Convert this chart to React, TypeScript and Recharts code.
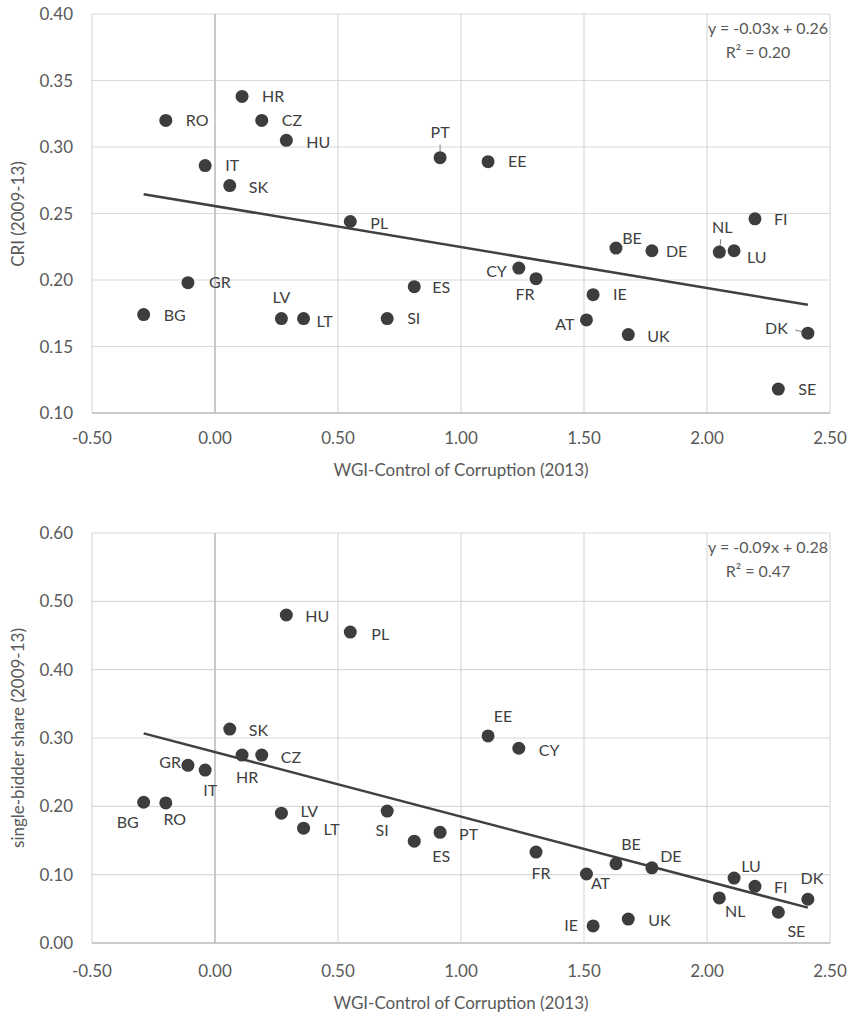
import React from "react";
import {
  ScatterChart,
  Scatter,
  XAxis,
  YAxis,
  CartesianGrid,
  ReferenceLine,
} from "recharts";

// country codes and values
const COUNTRIES = [
  "BG", "RO", "GR", "IT", "SK", "HR", "CZ", "LV", "HU", "LT", "PL", "SI", "ES", "PT",
  "EE", "CY", "FR", "AT", "IE", "BE", "UK", "DE", "NL", "LU", "FI", "SE", "DK",
];
const WGI_2013 = [
  -0.29, -0.2, -0.11, -0.04, 0.06, 0.11, 0.19, 0.27, 0.29, 0.36, 0.55, 0.7, 0.81, 0.915,
  1.11, 1.235, 1.305, 1.51, 1.537, 1.63, 1.68, 1.776, 2.05, 2.11, 2.195, 2.29, 2.41,
];
const CRI = [
  0.174, 0.32, 0.198, 0.286, 0.271, 0.338, 0.32, 0.171, 0.305, 0.171, 0.244, 0.171, 0.195, 0.292,
  0.289, 0.209, 0.201, 0.17, 0.189, 0.224, 0.159, 0.222, 0.221, 0.222, 0.246, 0.118, 0.16,
];
const SINGLE_BIDDER = [
  0.206, 0.205, 0.26, 0.253, 0.313, 0.275, 0.275, 0.19, 0.48, 0.168, 0.455, 0.193, 0.149, 0.162,
  0.303, 0.285, 0.133, 0.101, 0.025, 0.116, 0.035, 0.11, 0.066, 0.095, 0.083, 0.045, 0.064,
];

const X_TICKS = [-0.5, 0, 0.5, 1, 1.5, 2, 2.5];
const CRI_TICKS = [0.1, 0.15, 0.2, 0.25, 0.3, 0.35, 0.4];
const SB_TICKS = [0, 0.1, 0.2, 0.3, 0.4, 0.5, 0.6];

const X_TITLE = "WGI-Control of Corruption (2013)";
const CRI_TITLE = "CRI (2009-13)";
const SB_TITLE = "single-bidder share (2009-13)";
const CRI_EQ = ["y = -0.03x + 0.26", "R² = 0.20"];
const SB_EQ = ["y = -0.09x + 0.28", "R² = 0.47"];

type Anchor = "start" | "middle" | "end";
// where each label sits: [anchor, dx, dy of label centre], plus optional leader tick
const CRI_LABELS: Record<string, [Anchor, number, number, boolean?]> = {
  HR: ["start", 20, 0], RO: ["start", 20, 0], CZ: ["start", 20, 0], HU: ["start", 20, 2],
  IT: ["start", 20, 0], SK: ["start", 19, 2], PL: ["start", 20, 2], GR: ["start", 21, 0],
  BG: ["start", 20, 1], LV: ["middle", 0, -21], LT: ["start", 13, 3], SI: ["start", 20, 0],
  ES: ["start", 18, 1], PT: ["middle", 0, -25, true], EE: ["start", 20, 0], CY: ["end", -12, 3],
  FR: ["middle", -11, 16], IE: ["start", 20, 0], AT: ["end", -12, 5], UK: ["start", 19, 2],
  BE: ["middle", 16, -10], DE: ["start", 14, 1], NL: ["middle", 3, -25, true], LU: ["start", 13, 7],
  FI: ["start", 19, 1], DK: ["end", -20, -5, true], SE: ["start", 20, 0],
};
const SB_LABELS: Record<string, [Anchor, number, number, boolean?]> = {
  HU: ["start", 19, 1], PL: ["start", 21, 2], SK: ["start", 19, 1], HR: ["middle", 5, 22],
  CZ: ["start", 19, 2], GR: ["end", -7, -3], IT: ["middle", 5, 20], BG: ["middle", -16, 20],
  RO: ["middle", 9, 17], LV: ["start", 19, -2], LT: ["start", 20, 1], SI: ["middle", -5, 19],
  ES: ["middle", 27, 15], PT: ["start", 19, 2], EE: ["middle", 15, -19], CY: ["start", 20, 2],
  FR: ["middle", 5, 21], AT: ["middle", 14, 10], BE: ["middle", 15, -19], DE: ["middle", 19, -11],
  IE: ["end", -15, 0], UK: ["start", 20, 1], LU: ["middle", 17, -12], FI: ["start", 19, 1],
  NL: ["middle", 16, 14], SE: ["middle", 18, 19], DK: ["middle", 4, -21],
};

const FONT = "Lato, 'Open Sans', sans-serif";
const TEXT = "#595959";
const DOT = "#3d3d3d";

// ordinary least squares, as Excel's linear trendline does
function fit(xs: number[], ys: number[]) {
  const n = xs.length;
  const mx = xs.reduce((a, b) => a + b, 0) / n;
  const my = ys.reduce((a, b) => a + b, 0) / n;
  let sxy = 0;
  let sxx = 0;
  xs.forEach((x, i) => {
    sxy += (x - mx) * (ys[i] - my);
    sxx += (x - mx) * (x - mx);
  });
  const slope = sxy / sxx;
  return { slope, intercept: my - slope * mx };
}

function makeShape(labels: Record<string, [Anchor, number, number, boolean?]>) {
  return (props: any) => {
    const { cx, cy, payload } = props;
    const [anchor, dx, dy, leader] = labels[payload.code] || ["start", 20, 0];
    let tick = null;
    if (leader) {
      const len = Math.hypot(dx, dy) || 1;
      const ux = dx / len;
      const uy = dy / len;
      tick = (
        <line
          x1={cx + ux * 6}
          y1={cy + uy * 6}
          x2={cx + ux * 13}
          y2={cy + uy * 13}
          stroke="#7f7f7f"
          strokeWidth={1}
        />
      );
    }
    return (
      <g>
        {tick}
        <circle cx={cx} cy={cy} r={6.5} fill={DOT} />
        <text
          x={cx + dx}
          y={cy + dy + 5.5}
          textAnchor={anchor}
          fontSize={16}
          fontFamily={FONT}
          fill="#404040"
        >
          {payload.code}
        </text>
      </g>
    );
  };
}

interface PanelProps {
  top: number;
  height: number;
  marginTop: number;
  ys: number[];
  yTicks: number[];
  yTitle: string;
  equation: string[];
  labels: Record<string, [Anchor, number, number, boolean?]>;
  xTickMargin: number;
  titleY: number;
}

function Panel({ top, height, marginTop, ys, yTicks, yTitle, equation, labels, xTickMargin, titleY }: PanelProps) {
  const data = COUNTRIES.map((code, i) => ({ code, x: WGI_2013[i], y: ys[i] }));
  const { slope, intercept } = fit(WGI_2013, ys);
  const x0 = Math.min(...WGI_2013);
  const x1 = Math.max(...WGI_2013);
  const plotTop = marginTop;
  const plotBottom = height - (height === 490 ? 77 : 72);
  const midY = (plotTop + plotBottom) / 2;

  return (
    <div style={{ position: "absolute", left: 0, top, width: 853, height }}>
      <ScatterChart width={853} height={height} margin={{ top: marginTop, right: 23, bottom: 0, left: 0 }}>
        <CartesianGrid stroke="#d9d9d9" strokeWidth={1.2} />
        <XAxis
          type="number"
          dataKey="x"
          domain={[-0.5, 2.5]}
          ticks={X_TICKS}
          tickFormatter={(v: number) => v.toFixed(2)}
          height={height === 490 ? 77 : 72}
          tickLine={false}
          tickMargin={xTickMargin}
          axisLine={{ stroke: "#bfbfbf", strokeWidth: 1.5 }}
          tick={{ fill: TEXT, fontSize: 17, fontFamily: FONT }}
        />
        <YAxis
          type="number"
          dataKey="y"
          domain={[yTicks[0], yTicks[yTicks.length - 1]]}
          ticks={yTicks}
          tickFormatter={(v: number) => v.toFixed(2)}
          width={92}
          tickLine={false}
          tickMargin={13}
          axisLine={false}
          tick={{ fill: TEXT, fontSize: 17, fontFamily: FONT }}
        />
        <ReferenceLine x={0} stroke="#bfbfbf" strokeWidth={1.5} />
        <ReferenceLine
          segment={[
            { x: x0, y: intercept + slope * x0 },
            { x: x1, y: intercept + slope * x1 },
          ]}
          stroke="#404040"
          strokeWidth={2.5}
          ifOverflow="visible"
        />
        <Scatter data={data} isAnimationActive={false} shape={makeShape(labels)} />
      </ScatterChart>

      {/* trendline equation box, top right of the plot */}
      <div
        style={{
          position: "absolute",
          left: 680,
          top: plotTop + 2,
          width: 148,
          textAlign: "center",
          fontFamily: FONT,
          fontSize: 16,
          lineHeight: "24px",
          color: TEXT,
        }}
      >
        <div style={{ textAlign: "right" }}>{equation[0]}</div>
        <div style={{ paddingLeft: 8 }}>{equation[1]}</div>
      </div>

      {/* axis titles */}
      <div
        style={{
          position: "absolute",
          left: 18 - 200,
          top: midY - 12,
          width: 400,
          height: 24,
          lineHeight: "24px",
          textAlign: "center",
          transform: "rotate(-90deg)",
          fontFamily: FONT,
          fontSize: 17,
          color: TEXT,
        }}
      >
        {yTitle}
      </div>
      <div
        style={{
          position: "absolute",
          left: 92,
          top: titleY - 12,
          width: 738,
          lineHeight: "24px",
          textAlign: "center",
          fontFamily: FONT,
          fontSize: 17,
          color: TEXT,
        }}
      >
        {X_TITLE}
      </div>
    </div>
  );
}

export default function App() {
  return (
    <div style={{ position: "absolute", left: 0, top: 0, width: 853, height: 1015, background: "#fff" }}>
      <Panel
        top={0}
        height={490}
        marginTop={14}
        ys={CRI}
        yTicks={CRI_TICKS}
        yTitle={CRI_TITLE}
        equation={CRI_EQ}
        labels={CRI_LABELS}
        xTickMargin={13}
        titleY={470}
      />
      <Panel
        top={500}
        height={515}
        marginTop={33}
        ys={SINGLE_BIDDER}
        yTicks={SB_TICKS}
        yTitle={SB_TITLE}
        equation={SB_EQ}
        labels={SB_LABELS}
        xTickMargin={16}
        titleY={503}
      />
    </div>
  );
}
